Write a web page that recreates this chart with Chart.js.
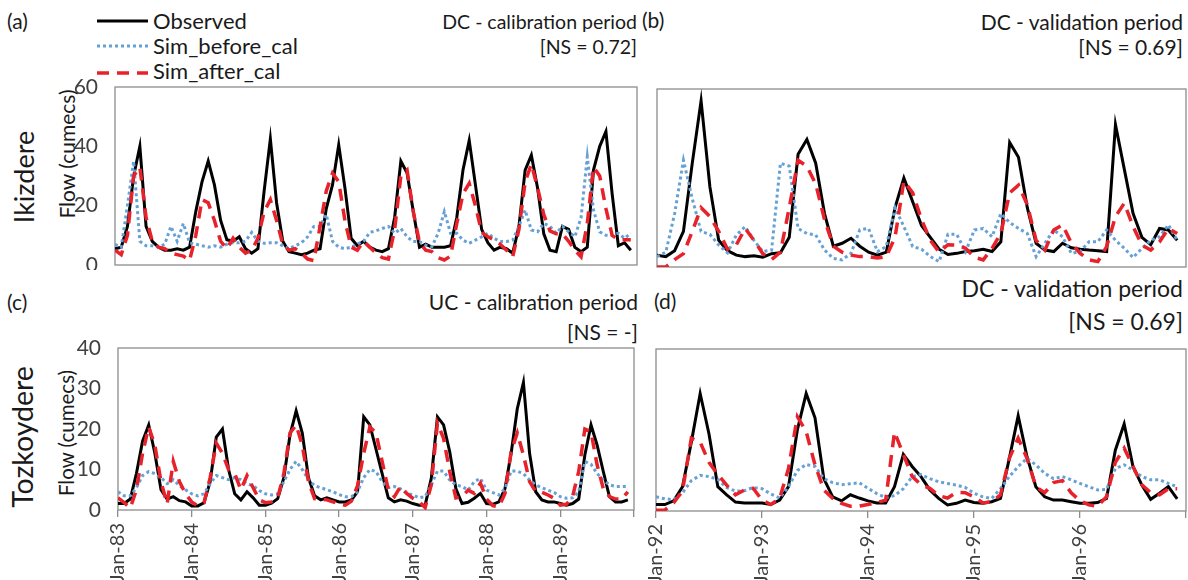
<!DOCTYPE html>
<html><head><meta charset="utf-8">
<script src="https://cdn.jsdelivr.net/npm/chart.js@4.4.1/dist/chart.umd.min.js"></script>
<style>
html,body{margin:0;padding:0;background:#fff;overflow:hidden;width:1188px;height:580px;}
body{position:relative;font-family:Lato,'Open Sans',sans-serif;color:#1a1a1a;}
.t{position:absolute;white-space:nowrap;}
.box{position:absolute;}
.rot{position:absolute;white-space:nowrap;transform:translate(-50%,-50%) rotate(-90deg);}
</style></head><body>
<div id="root"></div>
<script>
// ---------------- data ----------------
const seriesNames = ['Observed', 'Sim_before_cal', 'Sim_after_cal'];
const ticksCal = ['Jan-83','Jan-84','Jan-85','Jan-86','Jan-87','Jan-88','Jan-89',''];
const ticksVal = ['Jan-92','Jan-93','Jan-94','Jan-95','Jan-96',''];

// (a) Ikizdere, calibration, monthly Jan-83 .. Dec-89
const obsA = [5.5,6,13,30,40,13,8,6,5,5,5.5,5,
 6,18,28,35,27,15,8.5,8,9.5,5.5,4,5.5,
 25,42.5,21,8,4.5,4,3.5,4,5,5.5,19,27,
 40.5,26,9,6.5,8,6,5,4.5,5.5,16,35,31,
 18,6,7,6,6,6,6.5,16,32,42,27,12,
 7.5,5,6,5.5,4,13,32,37,26,10.5,5,4.5,
 13,12,6,4.5,6,32,40,45,24,6.5,7.5,5];
const beforeA = [7,6,20,35,8,6.5,6.5,6,7,13,8,14,
 7.5,7,6.5,6,6.5,6,7,7.5,7.5,8,11,8,
 7.3,7.5,7.5,6.5,5.5,6.5,7.5,9.5,13,13,17,8,
 6,5.5,6,7,8,11,11.5,12.3,13,10.7,12.3,9.5,
 7.9,7.9,6.7,6.2,10.7,18,10.7,10.7,8.4,7.3,8.4,9.5,
 10.7,9,7.9,7.9,8.4,13,18.5,11.8,11.2,14,13,10.7,
 13,11.2,9.5,16,36.5,18.5,11.2,10,10,10.7,9,10.7];
const afterA = [5,3.5,10,30,33,16,8,6,5.5,4,3.5,3,
 1.5,10,22,21,15,8,5.5,9,6,4,5,9,
 18,22,15,7,5,5.5,4,2,1.5,13,25,31,
 28,15,6,5,8,6,4,2.5,2,12,30,32,
 18,7.5,5,4.5,2.5,1.7,3,14,24,27.5,20,11,
 9.5,8.5,7,5,2.8,12,28,34,26,17,11.5,10.5,
 10.5,8,5,2.8,14,33,30,19,10,8.5,8.5,8.5];

// (b) Ikizdere, validation, monthly Jan-92 .. Dec-96
const obsB = [4,3.5,5.5,12,35,56,27,9,5.5,4,3.5,3.8,
 3.3,4.5,4.8,10,38,43,35,18,7,8,9.7,7,
 5,4,5,20,30,22,14,10,6,4.2,4.6,5.2,
 5.5,6,5.2,8.5,42,37,20,8,5.7,5.2,8,6.5,
 6,5.7,5.5,5.2,48,33,18,10,7.5,13,12.5,9];
const beforeB = [3.5,5,18,36,23,12,11,7.4,4.8,10.8,13.6,9,
 5.2,5.7,35,34,13,11.3,10.8,5.7,2.9,2.4,4.6,12.5,
 13,5.2,6.9,20,13.6,6.9,6,3.5,1.8,11,11,5.2,
 12.5,13,10.2,18,15,13,11.3,3.5,8,12.5,10.2,4.6,
 5.2,8.5,8.5,12.5,9,6.3,3.2,6.3,9,10.2,14.2,9];
const afterB = [0,0,2.5,4.5,12,20,17,12,6,7.5,13,9,
 4.5,2.5,5,20,36,34,28,16,7,5,4,3.5,
 3.5,3,3.5,10,29,25,16,9,5,7.5,7.4,6.3,
 3.3,2.4,6.3,11.3,25,27.6,21,9,5.7,12.5,14.2,8,
 4.6,2.4,1.8,6.9,17,21.5,13.6,7.4,5.7,8.5,13,11.3];

// (c) Tozkoydere, calibration, monthly Jan-83 .. Dec-89
const obsC = [1.6,1.6,2.7,9,17,21,14,5,2.7,3.3,2.3,2,
 1,1,1.8,7,18,20,10,4,2.5,4.5,3,1.2,
 1.2,1.7,2.8,8,18.5,24.5,19,8,3.5,2.5,3,2.5,
 2,2,2.5,4.5,23,21,15,9,3,2,2.5,2.2,
 1.6,1.2,1.2,7.8,23,21,14.4,5.3,1.6,1.9,2.9,4.1,
 1.6,1.4,2,5.3,14,25,31.5,14,4.5,2.5,2,2,
 1.6,1.2,1.6,2.7,13.6,21,16,9.5,3.3,2,2,2.5];
const beforeC = [4.5,3.5,3.5,5.5,8.5,9.5,9,8,6.5,7.5,6,5,
 4,3.5,4,6.5,8.5,8,7.5,8,7.5,6.5,6,4.8,
 4,3.7,4,7,10,12,10,7.5,6,5.5,5,4.5,
 3.8,3.3,3.3,4.5,8,10,9.5,7,5.5,5.8,5.2,4.1,
 3.7,3,3.3,6.2,9.6,9.6,7.4,6.2,5.8,4.9,7,7.8,
 4.9,4.3,3.7,5.3,9.6,9.6,9,7.4,6.2,5.5,4.9,4.3,
 3.3,2.9,3,4.5,12,11.3,9,7.4,6.2,5.8,5.8,5.8];
const afterC = [3,1.8,0.5,5,14,20.5,16,7,1.5,12,7,4,
 2,1,1.8,8,16.5,14,10,9,5,8.5,5.5,2.5,
 1.8,2,3,9,19,21,16,7,2.8,2.7,2.5,2,
 1.5,1.2,2.2,6,14,20.5,19,12,5,3.3,5.8,4.1,
 2.9,2.1,0.6,6.2,21.4,17.7,9.5,3,3.3,4.9,4.1,6.6,
 2.7,1.1,0.8,4.1,14.4,19,13.6,7,4.5,4.4,3.7,2.9,
 1.2,1.4,3.3,9.5,20,19.3,11.1,5.3,3.3,2.7,2.7,4.5];

// (d) Tozkoydere, validation, monthly Jan-92 .. Dec-96
const obsD = [1.6,1.6,2.5,6,17,29,19,6,4,2.2,2,2,
 2,1.6,2.7,6,20,29,23,8,3.5,2.5,4,3.2,
 2.5,2,2,6,14,11,8.5,5.2,3.1,1.5,1.9,2.7,
 2.1,1.9,2.3,3.1,13,23.5,13.4,6,3.5,2.7,2.7,2.3,
 1.9,1.9,2.1,3.1,15,21.5,11,6.4,2.9,4.4,6,3];
const beforeD = [3.5,3,2.8,4.5,7.5,8.8,8.5,7.8,5.8,4.9,5,5.8,
 5.5,4.2,3.2,6,10,11.5,11,8,7,6.5,6.7,7,
 5.6,4.3,3.3,3.8,5.5,8.5,9,8,7.2,6.8,6.4,5.8,
 4.4,3.5,3.1,5.5,8.5,11,13,11.4,9.3,8,8.5,7.7,
 6.8,6,5.2,5.3,10.5,11.4,10.1,8.5,7.7,7.7,6.8,6];
const afterD = [0.2,0.2,2,5,18,17,12,9,6.4,4,5.2,5.6,
 2.7,1.6,3.1,10.5,23.3,19.6,11.4,5.2,3.1,1.9,1.2,1.2,
 1.6,2.1,2.7,19.5,14,8.5,6.5,5.6,3.8,3.2,4.6,4.5,
 3.5,2,2.3,4,13,18,13,6,4.5,7,7.5,4.5,
 2.5,1.5,1.2,3.5,12,15.5,11,6.5,4.5,4,5.5,5.5];

// ---------------- layout / text ----------------
const root = document.getElementById('root');
function txt(s, css) { const d = document.createElement('div'); d.className = 't'; d.textContent = s; Object.assign(d.style, css); root.appendChild(d); return d; }
function rtxt(s, x, y, size) { const d = document.createElement('div'); d.className = 'rot'; d.textContent = s; Object.assign(d.style, {left: x + 'px', top: y + 'px', fontSize: size + 'px'}); root.appendChild(d); }
function rightTxt(s, xr, yc, size) { txt(s, {right: (1188 - xr) + 'px', top: (yc - size * 0.6) + 'px', fontSize: size + 'px', lineHeight: (size * 1.2) + 'px'}); }
function leftTxt(s, xl, yc, size) { txt(s, {left: xl + 'px', top: (yc - size * 0.6) + 'px', fontSize: size + 'px', lineHeight: (size * 1.2) + 'px'}); }

leftTxt('(a)', 7, 21, 21); leftTxt('(b)', 642, 20, 21);
leftTxt('(c)', 7, 302, 21); leftTxt('(d)', 654, 301, 21);
rightTxt('DC - calibration period', 637, 22, 19.5); rightTxt('[NS = 0.72]', 637, 47, 19.5);
rightTxt('DC - validation period', 1183, 22, 21); rightTxt('[NS = 0.69]', 1183, 47, 21);
rightTxt('UC - calibration period', 638, 302, 21); rightTxt('[NS = -]', 638, 332, 21);
rightTxt('DC - validation period', 1183, 289, 23); rightTxt('[NS = 0.69]', 1183, 322, 23);
rtxt('Ikizdere', 23, 177, 27); rtxt('Tozkoydere', 22, 437, 28.5);
rtxt('Flow (cumecs)', 66, 154, 21); rtxt('Flow (cumecs)', 66, 433, 20.5);

const COL = {obs: '#000000', before: '#66A1D6', after: '#E8222B', frame: '#8C8C8C', tick: '#404040'};

// legend
const lg = document.createElementNS('http://www.w3.org/2000/svg', 'svg');
lg.setAttribute('width', '60'); lg.setAttribute('height', '80');
lg.style.position = 'absolute'; lg.style.left = '95px'; lg.style.top = '8px';
lg.innerHTML = '<line x1="2" y1="13" x2="53" y2="13" stroke="' + COL.obs + '" stroke-width="3"/>' +
  '<line x1="2" y1="38" x2="53" y2="38" stroke="' + COL.before + '" stroke-width="3" stroke-dasharray="3 3"/>' +
  '<line x1="2" y1="65" x2="53" y2="65" stroke="' + COL.after + '" stroke-width="3.5" stroke-dasharray="12 8"/>';
root.appendChild(lg);
leftTxt(seriesNames[0], 153, 21, 22); leftTxt(seriesNames[1], 153, 46, 22); leftTxt(seriesNames[2], 153, 71, 22);

// ---------------- charts ----------------
const framePlugin = {
  id: 'frame',
  beforeDatasetsDraw(chart) {
    const {ctx, chartArea: a} = chart;
    ctx.save(); ctx.strokeStyle = COL.frame; ctx.lineWidth = 1.3;
    ctx.strokeRect(a.left, a.top, a.right - a.left, a.bottom - a.top);
    ctx.restore();
  }
};

function pts(arr) { return arr.map((v, i) => ({x: i, y: v})); }

function panel(p) {
  const div = document.createElement('div'); div.className = 'box';
  Object.assign(div.style, {left: p.left + 'px', top: p.top + 'px', width: p.w + 'px', height: p.h + 'px'});
  const cv = document.createElement('canvas'); div.appendChild(cv); root.appendChild(div);
  cv.style.width = p.w + 'px'; cv.style.height = p.h + 'px'; cv.width = p.w; cv.height = p.h;
  const n = p.obs.length;
  new Chart(cv, {
    type: 'line',
    data: {
      datasets: [
        {label: seriesNames[2], data: pts(p.after), borderColor: COL.after, borderWidth: 3.5, borderDash: [12, 8], pointRadius: 0, tension: 0, fill: false, order: 1},
        {label: seriesNames[1], data: pts(p.before), borderColor: COL.before, borderWidth: 3, borderDash: [3, 3], pointRadius: 0, tension: 0, fill: false, order: 2},
        {label: seriesNames[0], data: pts(p.obs), borderColor: COL.obs, borderWidth: 3, pointRadius: 0, tension: 0, fill: false, order: 3}
      ]
    },
    options: {
      responsive: false, animation: false, events: [],
      layout: {padding: p.pad},
      plugins: {legend: {display: false}, tooltip: {enabled: false}},
      scales: {
        x: {
          type: 'linear', min: 0, max: n, display: p.showX,
          border: {display: false},
          grid: {display: true, drawOnChartArea: false, drawTicks: true, tickLength: 7, color: COL.frame, lineWidth: 1.3},
          ticks: {stepSize: 12, autoSkip: false, maxRotation: 90, minRotation: 90, padding: 6,
                  font: {family: 'Lato', size: 20}, color: COL.tick,
                  callback: (v) => { const k = Math.round(v / 12); return p.ticks[k] !== undefined ? p.ticks[k] : ''; }},
          afterFit: (s) => { s.height = p.xH; s.paddingLeft = 0; s.paddingRight = 0; }
        },
        y: {
          type: 'linear', min: 0, max: p.yMax, display: p.showY,
          border: {display: false},
          grid: {display: false, drawTicks: false},
          ticks: {stepSize: p.step, padding: 17, font: {family: 'Lato', size: 21}, color: COL.tick},
          afterFit: (s) => { s.width = p.yW; s.paddingTop = 0; s.paddingBottom = 0; }
        }
      }
    },
    plugins: [framePlugin]
  });
}

panel({left: 0, top: 70, w: 645, h: 200, pad: {left: 0, top: 17, right: 8, bottom: 5}, yW: 115, xH: 0,
  yMax: 60, step: 20, showY: true, showX: false, ticks: ticksCal, obs: obsA, before: beforeA, after: afterA});
panel({left: 645, top: 70, w: 543, h: 200, pad: {left: 12, top: 19, right: 2, bottom: 3}, yW: 0, xH: 0,
  yMax: 60, step: 20, showY: false, showX: false, ticks: ticksVal, obs: obsB, before: beforeB, after: afterB});
panel({left: 0, top: 330, w: 645, h: 290, pad: {left: 0, top: 18, right: 11, bottom: 0}, yW: 118, xH: 110,
  yMax: 40, step: 10, showY: true, showX: true, ticks: ticksCal, obs: obsC, before: beforeC, after: afterC});
panel({left: 645, top: 330, w: 543, h: 290, pad: {left: 11, top: 19, right: 2, bottom: 0}, yW: 0, xH: 109,
  yMax: 40, step: 10, showY: false, showX: true, ticks: ticksVal, obs: obsD, before: beforeD, after: afterD});
</script>
</body></html>
